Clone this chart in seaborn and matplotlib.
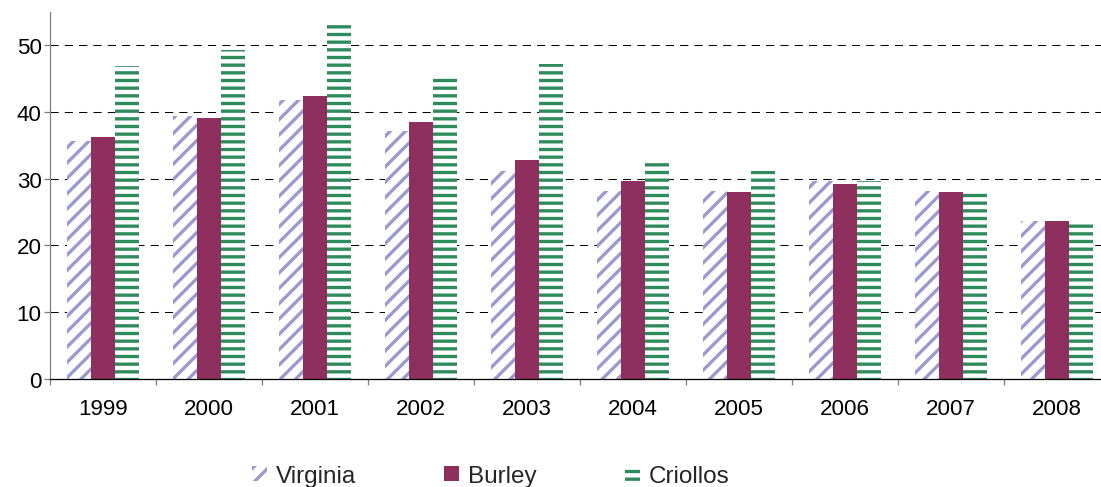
import matplotlib
matplotlib.use("Agg")
import matplotlib.pyplot as plt
from matplotlib.patches import Patch
from matplotlib.ticker import FixedLocator
import numpy as np
import pandas as pd
import seaborn as sns

# Yearly values per tobacco type
years = ["1999", "2000", "2001", "2002", "2003", "2004", "2005", "2006", "2007", "2008"]
virginia = [35.7, 39.3, 41.7, 37.2, 31.2, 28.1, 28.2, 29.7, 28.2, 23.7]
burley = [36.3, 39.0, 42.3, 38.4, 32.8, 29.7, 28.0, 29.2, 28.0, 23.7]
criollos = [46.8, 49.2, 53.0, 45.0, 47.1, 32.3, 31.2, 29.7, 28.1, 23.7]
series_names = ["Virginia", "Burley", "Criollos"]
y_ticks = [0, 10, 20, 30, 40, 50]

df = pd.DataFrame({
    "year": years * 3,
    "value": virginia + burley + criollos,
    "type": [n for n in series_names for _ in years],
})

sns.set_theme(style="white")
plt.rcParams["font.family"] = ["Liberation Sans", "DejaVu Sans"]
plt.rcParams["hatch.linewidth"] = 2.6

DPI = 92
W, H = 1101, 488
fig = plt.figure(figsize=(W / DPI, H / DPI), dpi=DPI)
ax = fig.add_axes([50 / W, 108 / H, 1060 / W, 367.4 / H])

purple = "#9A9AD0"
maroon = "#8E2F5E"
green = "#2E8B5C"
styles = {
    "Virginia": dict(facecolor="white", edgecolor=purple, hatch="//"),
    "Burley": dict(facecolor=maroon, edgecolor=maroon, hatch=None),
    "Criollos": dict(facecolor="white", edgecolor=green, hatch="--"),
}

sns.barplot(data=df, x="year", y="value", hue="type", hue_order=series_names,
            palette=[purple, maroon, green], width=0.67, gap=0,
            legend=False, ax=ax, saturation=1)

for name, container in zip(series_names, ax.containers):
    st = styles[name]
    for bar in container:
        bar.set_facecolor(st["facecolor"])
        bar.set_edgecolor(st["edgecolor"])
        bar.set_linewidth(0)
        if st["hatch"]:
            bar.set_hatch(st["hatch"])

ax.set_xlim(-0.5, 9.5)
ax.set_ylim(0, 55)
ax.set_yticks(y_ticks)
ax.set_xlabel("")
ax.set_ylabel("")

ax.set_axisbelow(True)
ax.yaxis.grid(True, color="black", linewidth=0.8, linestyle=(0, (8, 6)))
ax.xaxis.grid(False)

for side in ["top", "right"]:
    ax.spines[side].set_visible(False)
ax.spines["left"].set_color("#808080")
ax.spines["left"].set_linewidth(1.0)
ax.spines["bottom"].set_color("black")
ax.spines["bottom"].set_linewidth(1.0)

ax.xaxis.set_minor_locator(FixedLocator(np.arange(-0.5, 10, 1.0)))
ax.tick_params(axis="x", which="major", length=0, pad=15, labelsize=17.5, labelcolor="black")
ax.tick_params(axis="x", which="minor", bottom=True, length=5, width=1, color="#808080")
ax.tick_params(axis="y", which="major", left=True, length=5, width=1, color="#808080",
               pad=1.5, labelsize=17.5, labelcolor="black")

handles = [Patch(label=n, **styles[n], linewidth=0) for n in series_names]
fig.legend(handles=handles, loc="center left", bbox_to_anchor=(252 / W, 1 - 477 / H),
           ncol=3, frameon=False, fontsize=19, handlelength=0.62, handleheight=0.6,
           handletextpad=0.35, columnspacing=3.65, borderpad=0, borderaxespad=0)

fig.savefig("out.png", dpi=DPI)
